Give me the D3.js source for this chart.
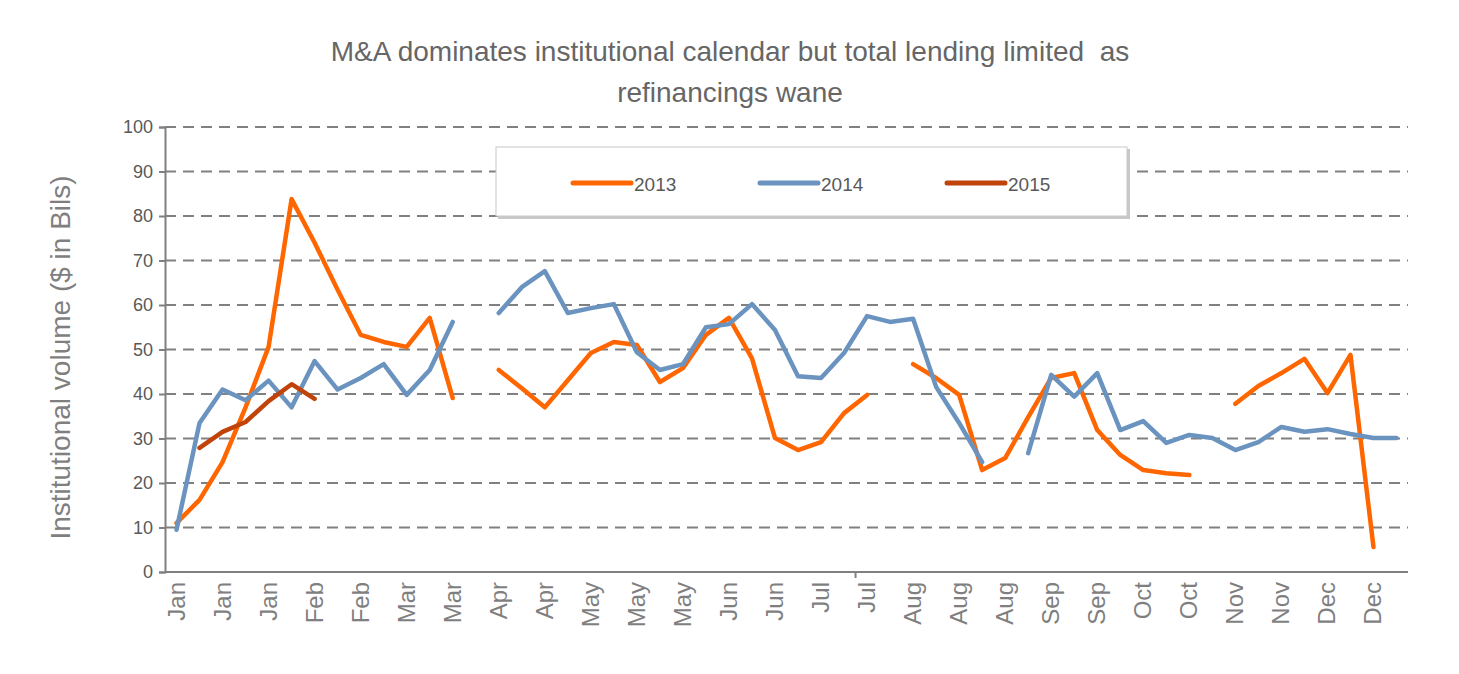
<!DOCTYPE html>
<html>
<head>
<style>
  body { margin: 0; background: #fff; }
  text { font-family: "Liberation Sans", Arial, sans-serif; }
</style>
</head>
<body>
<svg id="chart" width="1459" height="674"></svg>
<script src="https://d3js.org/d3.v7.min.js"></script>
<script>
const labels = ['Jan','Jan','Jan','Feb','Feb','Mar','Mar','Apr','Apr','May','May','May','Jun','Jun',
  'Jul','Jul','Aug','Aug','Aug','Sep','Sep','Oct','Oct','Nov','Nov','Dec','Dec']

const v2013 = [11,16.2,24.7,37,50.6,83.8,74,63.4,53.3,51.7,50.6,57.1,39.1,null,
  45.4,41.3,37,43.1,49.2,51.7,51,42.7,45.8,53.3,57.1,48,30.1,27.4,29.2,35.7,39.8,null,
  46.7,43.6,39.8,22.9,25.6,34.8,43.6,44.7,31.9,26.3,22.9,22.2,21.8,null,
  37.8,41.8,44.7,47.9,40.2,48.8,5.6,null]
const v2014 = [9.5,33.5,41,38.6,43,37,47.4,41,43.6,46.7,39.8,45.4,56.2,null,
  58.2,64,67.6,58.2,59.3,60.2,49.4,45.4,46.7,55,55.7,60.2,54.4,44,43.6,49.2,57.5,56.2,56.9,
  41.6,33.5,24.7,null,26.7,44.3,39.4,44.7,31.9,33.9,29,30.8,30.1,27.4,29.2,32.6,31.5,32.1,31,30.1,30.1]
const v2015 = [null,27.9,31.5,33.7,38.4,42.2,38.9]

const series = [
  { name: '2013', values: v2013, color: '#ff6600' },
  { name: '2014', values: v2014, color: '#6b93bf' },
  { name: '2015', values: v2015, color: '#c0440a' }
]

const svg = d3.select('#chart')
const margin = { left: 165, right: 1408, top: 127, bottom: 572 }
const n = v2014.length

const x = d3.scaleBand().domain(d3.range(n)).range([margin.left, margin.right])
const y = d3.scaleLinear().domain([0, 100]).range([margin.bottom, margin.top])

// title
svg.append('text').attr('x', 730).attr('y', 61).attr('text-anchor', 'middle')
  .style('font-size', '28px').style('fill', '#666').style('white-space', 'pre')
  .text('M&A dominates institutional calendar but total lending limited  as')
svg.append('text').attr('x', 730).attr('y', 102).attr('text-anchor', 'middle')
  .style('font-size', '28px').style('fill', '#666')
  .text('refinancings wane')

// grid
svg.append('g').selectAll('line')
  .data(d3.range(10, 101, 10))
  .join('line')
  .attr('x1', margin.left).attr('x2', margin.right)
  .attr('y1', d => y(d)).attr('y2', d => y(d))
  .attr('stroke', '#808080').attr('stroke-width', 2).attr('stroke-dasharray', '11,7')

// y axis
const yAxis = svg.append('g').attr('transform', `translate(${margin.left},0)`)
  .call(d3.axisLeft(y).ticks(10).tickSize(6).tickPadding(6))
yAxis.select('.domain').attr('stroke', '#808080').attr('stroke-width', 2)
yAxis.selectAll('.tick line').attr('stroke', '#808080').attr('stroke-width', 2)
yAxis.selectAll('.tick text').style('font-size', '18px').style('fill', '#595959')

svg.append('text')
  .attr('transform', `translate(70,${(margin.top + margin.bottom) / 2 + 8}) rotate(-90)`)
  .attr('text-anchor', 'middle')
  .style('font-size', '28px').style('fill', '#7f7f7f')
  .text('Institutional volume ($ in Bils)')

// x axis
svg.append('line')
  .attr('x1', margin.left).attr('x2', margin.right)
  .attr('y1', y(0)).attr('y2', y(0))
  .attr('stroke', '#808080').attr('stroke-width', 2)
svg.append('line')
  .attr('x1', x(30)).attr('x2', x(30))
  .attr('y1', y(0)).attr('y2', y(0) + 6)
  .attr('stroke', '#808080').attr('stroke-width', 2)

svg.append('g').selectAll('text')
  .data(labels)
  .join('text')
  .attr('transform', (d, i) => `translate(${x(i * 2) + x.bandwidth() / 2 + 8},582) rotate(-90)`)
  .attr('text-anchor', 'end')
  .style('font-size', '24px').style('fill', '#7f7f7f')
  .text(d => d)

// lines
const line = d3.line()
  .defined(d => d != null)
  .x((d, i) => x(i) + x.bandwidth() / 2)
  .y(d => y(d))

svg.append('g').selectAll('path')
  .data(series)
  .join('path')
  .attr('d', d => line(d.values))
  .attr('fill', 'none')
  .attr('stroke', d => d.color)
  .attr('stroke-width', 4.5)
  .attr('stroke-linejoin', 'round')
  .attr('stroke-linecap', 'round')

// legend
svg.append('rect').attr('x', 498).attr('y', 149).attr('width', 632).attr('height', 70)
  .attr('fill', '#c8c8c8')
svg.append('rect').attr('x', 496).attr('y', 147).attr('width', 631).attr('height', 69)
  .attr('fill', '#fff').attr('stroke', '#c8c8c8').attr('stroke-width', 1)

const legend = svg.append('g').selectAll('g')
  .data(series)
  .join('g')
  .attr('transform', (d, i) => `translate(${573 + i * 187},183)`)
legend.append('line').attr('x1', 0).attr('x2', 58)
  .attr('stroke', d => d.color).attr('stroke-width', 5).attr('stroke-linecap', 'round')
legend.append('text').attr('x', 61).attr('y', 8)
  .style('font-size', '19px').style('fill', '#595959')
  .text(d => d.name)
</script>
</body>
</html>
